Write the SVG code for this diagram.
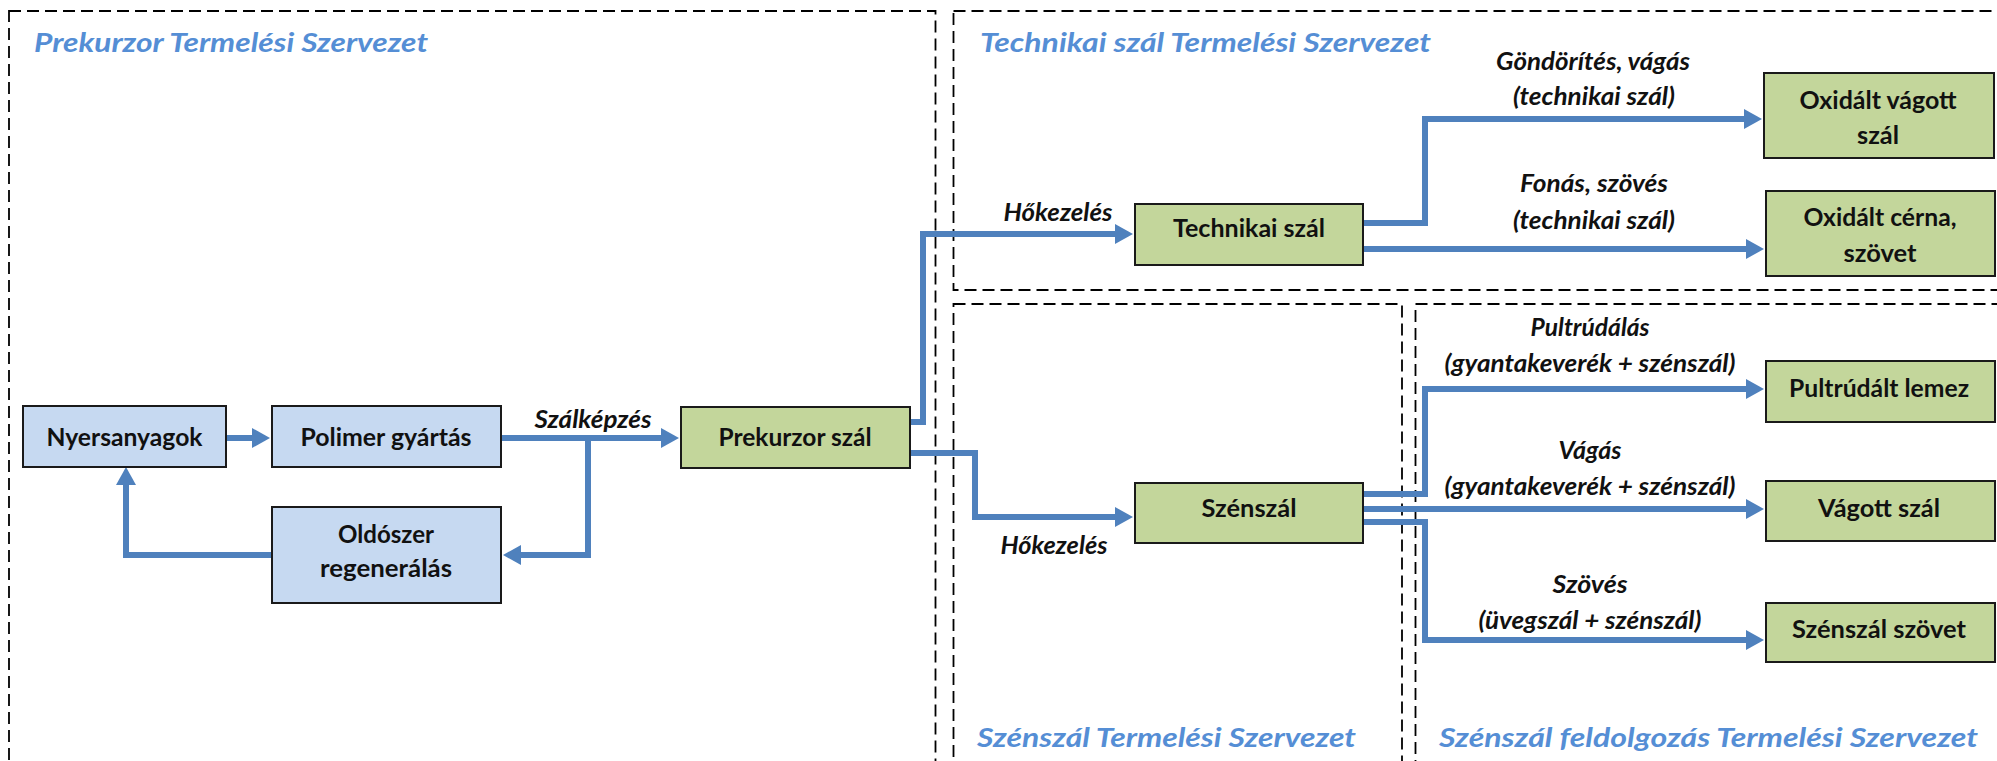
<svg xmlns="http://www.w3.org/2000/svg" width="1997" height="761" viewBox="0 0 1997 761">
<defs>
<marker id="ah" markerUnits="userSpaceOnUse" markerWidth="18" markerHeight="20" refX="10" refY="10" orient="auto">
<path d="M0,0 L18,10 L0,20 z" fill="#4F81BD"/>
</marker>
<style>
.zone{fill:none;stroke:#000;stroke-width:1.8;stroke-dasharray:12 6}
.title{font-family:Lato,"Liberation Sans",sans-serif;font-weight:bold;font-style:italic;font-size:26px;fill:#558ED5}
.nb{fill:#C6D9F1;stroke:#1a1a1a;stroke-width:2}
.ng{fill:#C3D69B;stroke:#1a1a1a;stroke-width:2}
.nt{font-family:Lato,"Liberation Sans",sans-serif;font-weight:bold;font-size:25px;fill:#111;text-anchor:middle}
.lb{font-family:Lato,"Liberation Sans",sans-serif;font-weight:bold;font-style:italic;font-size:24px;fill:#111;text-anchor:middle}
.e{fill:none;stroke:#4F81BD;stroke-width:6;stroke-linejoin:miter}
.ea{fill:none;stroke:#4F81BD;stroke-width:6;marker-end:url(#ah)}
</style>
</defs>
<rect width="1997" height="761" fill="#fff"/>
<g id="zones">
<rect class="zone" x="9" y="11" width="926.5" height="780"/>
<rect class="zone" x="953.5" y="11" width="1060" height="279"/>
<rect class="zone" x="953.5" y="304" width="448.5" height="480"/>
<rect class="zone" x="1415.5" y="304" width="600" height="480"/>
<text class="title" x="34" y="52" textLength="394" lengthAdjust="spacingAndGlyphs">Prekurzor Termelési Szervezet</text>
<text class="title" x="980" y="52" textLength="451" lengthAdjust="spacingAndGlyphs">Technikai  szál Termelési Szervezet</text>
<text class="title" x="977" y="747" textLength="379" lengthAdjust="spacingAndGlyphs">Szénszál Termelési Szervezet</text>
<text class="title" x="1439" y="747" textLength="539" lengthAdjust="spacingAndGlyphs">Szénszál feldolgozás Termelési Szervezet</text>
</g>
<g id="connectors">
<path class="ea" d="M226,438 L262,438"/>
<path class="ea" d="M501,438 L671,438"/>
<path class="ea" d="M588,438 L588,555 L511,555"/>
<path class="ea" d="M272,555 L126,555 L126,475"/>
<path class="ea" d="M910,422 L923,422 L923,234 L1125,234"/>
<path class="ea" d="M910,453 L975,453 L975,517 L1125,517"/>
<path class="ea" d="M1363,223 L1425,223 L1425,119 L1754,119"/>
<path class="ea" d="M1363,249 L1756,249"/>
<path class="ea" d="M1363,494 L1425,494 L1425,389 L1756,389"/>
<path class="ea" d="M1363,509 L1756,509"/>
<path class="ea" d="M1363,522 L1425,522 L1425,640 L1756,640"/>
<text class="lb" x="593" y="428" textLength="117" lengthAdjust="spacingAndGlyphs">Szálképzés</text>
<text class="lb" x="1058" y="221" textLength="109" lengthAdjust="spacingAndGlyphs">Hőkezelés</text>
<text class="lb" x="1054" y="554" textLength="107" lengthAdjust="spacingAndGlyphs">Hőkezelés</text>
<text class="lb" x="1593" y="70" textLength="194" lengthAdjust="spacingAndGlyphs">Göndörítés, vágás</text>
<text class="lb" x="1594" y="105" textLength="162" lengthAdjust="spacingAndGlyphs">(technikai szál)</text>
<text class="lb" x="1594" y="192" textLength="148" lengthAdjust="spacingAndGlyphs">Fonás, szövés</text>
<text class="lb" x="1594" y="229" textLength="162" lengthAdjust="spacingAndGlyphs">(technikai szál)</text>
<text class="lb" x="1590" y="336" textLength="119" lengthAdjust="spacingAndGlyphs">Pultrúdálás</text>
<text class="lb" x="1590" y="372" textLength="291" lengthAdjust="spacingAndGlyphs">(gyantakeverék + szénszál)</text>
<text class="lb" x="1590" y="459" textLength="63" lengthAdjust="spacingAndGlyphs">Vágás</text>
<text class="lb" x="1590" y="495" textLength="291" lengthAdjust="spacingAndGlyphs">(gyantakeverék + szénszál)</text>
<text class="lb" x="1590" y="593" textLength="75" lengthAdjust="spacingAndGlyphs">Szövés</text>
<text class="lb" x="1590" y="629" textLength="223" lengthAdjust="spacingAndGlyphs">(üvegszál + szénszál)</text>
</g>
<g id="n-nyersanyagok"><rect class="nb" x="23" y="406" width="203" height="61"/><text class="nt" x="124.5" y="446" textLength="156" lengthAdjust="spacingAndGlyphs">Nyersanyagok</text></g>
<g id="n-polimer"><rect class="nb" x="272" y="406" width="229" height="61"/><text class="nt" x="386" y="446" textLength="171" lengthAdjust="spacingAndGlyphs">Polimer gyártás</text></g>
<g id="n-oldoszer"><rect class="nb" x="272" y="507" width="229" height="96"/><text class="nt" x="386" y="543" textLength="96" lengthAdjust="spacingAndGlyphs">Oldószer</text><text class="nt" x="386" y="577" textLength="132" lengthAdjust="spacingAndGlyphs">regenerálás</text></g>
<g id="n-prekurzor"><rect class="ng" x="681" y="407" width="229" height="61"/><text class="nt" x="795" y="446" textLength="153" lengthAdjust="spacingAndGlyphs">Prekurzor szál</text></g>
<g id="n-technikai"><rect class="ng" x="1135" y="204" width="228" height="61"/><text class="nt" x="1249" y="237" textLength="152" lengthAdjust="spacingAndGlyphs">Technikai szál</text></g>
<g id="n-oxvagott"><rect class="ng" x="1764" y="73" width="230" height="85"/><text class="nt" x="1878" y="109" textLength="157" lengthAdjust="spacingAndGlyphs">Oxidált vágott</text><text class="nt" x="1878" y="144" textLength="42" lengthAdjust="spacingAndGlyphs">szál</text></g>
<g id="n-oxcerna"><rect class="ng" x="1766" y="191" width="229" height="85"/><text class="nt" x="1880" y="226" textLength="153" lengthAdjust="spacingAndGlyphs">Oxidált cérna,</text><text class="nt" x="1880" y="262" textLength="73" lengthAdjust="spacingAndGlyphs">szövet</text></g>
<g id="n-szenszal"><rect class="ng" x="1135" y="483" width="228" height="60"/><text class="nt" x="1249" y="517" textLength="95" lengthAdjust="spacingAndGlyphs">Szénszál</text></g>
<g id="n-pultrudalt"><rect class="ng" x="1766" y="361" width="229" height="61"/><text class="nt" x="1879" y="397" textLength="180" lengthAdjust="spacingAndGlyphs">Pultrúdált lemez</text></g>
<g id="n-vagott"><rect class="ng" x="1766" y="481" width="229" height="60"/><text class="nt" x="1879" y="517" textLength="122" lengthAdjust="spacingAndGlyphs">Vágott szál</text></g>
<g id="n-szovet"><rect class="ng" x="1766" y="603" width="229" height="59"/><text class="nt" x="1879" y="638" textLength="174" lengthAdjust="spacingAndGlyphs">Szénszál szövet</text></g>
</svg>
